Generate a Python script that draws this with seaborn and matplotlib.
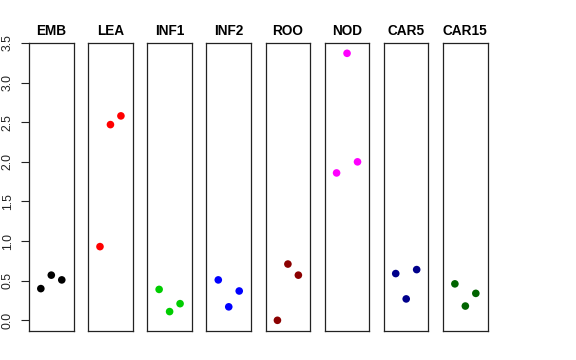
import numpy as np
import pandas as pd
import matplotlib
matplotlib.use("Agg")
import matplotlib.pyplot as plt
import seaborn as sns

# tissue groups and three replicate values each
tissues = ["EMB", "LEA", "INF1", "INF2", "ROO", "NOD", "CAR5", "CAR15"]
emb = [0.40, 0.57, 0.51]
lea = [0.93, 2.47, 2.58]
inf1 = [0.39, 0.11, 0.21]
inf2 = [0.51, 0.17, 0.37]
roo = [0.00, 0.71, 0.57]
nod = [1.86, 3.37, 2.00]
car5 = [0.59, 0.27, 0.64]
car15 = [0.46, 0.18, 0.34]
replicate = [1, 2, 3]
colors = ["black", "red", "#00CD00", "blue", "#8B0000", "magenta", "#00008B", "#006400"]

values = [emb, lea, inf1, inf2, roo, nod, car5, car15]
df = pd.DataFrame({
    "tissue": np.repeat(tissues, len(replicate)),
    "rep": replicate * len(tissues),
    "value": np.concatenate(values),
})

sns.set_style("white")
plt.rcParams["font.family"] = ["Liberation Sans", "DejaVu Sans"]

W, H = 576, 360
fig = plt.figure(figsize=(W / 100, H / 100), dpi=100)

left0, step, pw = 29, 59.15, 44.6
top, bottom = 43, 331

for i, (t, c) in enumerate(zip(tissues, colors)):
    x0 = left0 + i * step
    ax = fig.add_axes([x0 / W, 1 - bottom / H, pw / W, (bottom - top) / H])
    sub = df[df["tissue"] == t]
    sns.scatterplot(data=sub, x="rep", y="value", color=c, s=30,
                    edgecolor="none", ax=ax, legend=False)
    ax.set_xlim(-0.13, 4.13)
    ax.set_ylim(-0.135, 3.5)
    ax.set_xticks([])
    ax.set_xlabel("")
    ax.set_ylabel("")
    ax.set_title(t, fontsize=9.8, fontweight="bold", pad=6, color="black")
    for sp in ax.spines.values():
        sp.set_visible(True)
        sp.set_color("#222222")
        sp.set_linewidth(0.9)
    if i == 0:
        ax.set_yticks(np.arange(0, 3.51, 0.5))
        ax.set_yticklabels([f"{v:.1f}" for v in np.arange(0, 3.51, 0.5)],
                           rotation=90, va="center", fontsize=8.8, color="#222222")
        ax.tick_params(axis="y", length=6, width=0.8, color="#222222",
                       pad=5, left=True)
    else:
        ax.set_yticks([])

fig.savefig("out.png", dpi=100)
